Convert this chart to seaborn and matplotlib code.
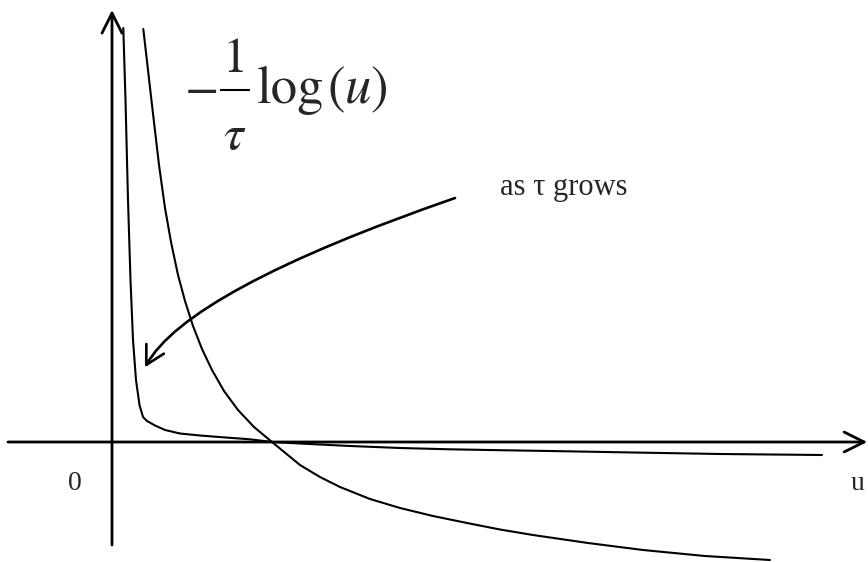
import matplotlib
matplotlib.use("Agg")
import matplotlib.pyplot as plt
from matplotlib.path import Path
from matplotlib.patches import FancyArrowPatch
import pandas as pd
import seaborn as sns

# Curve for a small tau: steep, crosses zero at u = 1
u_small_tau = [0.1956, 0.25, 0.2938, 0.3313, 0.3688, 0.4125, 0.4563, 0.5063,
               0.5625, 0.625, 0.70, 0.7875, 0.8875, 1.0, 1.175, 1.30, 1.425,
               1.6125, 1.80, 2.006, 2.219, 2.425, 2.631, 2.975, 3.319, 3.706,
               4.1125]
v_small_tau = [4.13, 3.37, 2.77, 2.34, 2.00, 1.67, 1.41, 1.16,
               0.93, 0.72, 0.51, 0.32, 0.15, 0.0, -0.23, -0.35, -0.45,
               -0.57, -0.66, -0.74, -0.81, -0.875, -0.93, -1.01, -1.08, -1.14,
               -1.18]

# Curve for a large tau: wall near u = 0, then almost flat
u_large_tau = [0.0706, 0.0844, 0.10, 0.1156, 0.1313, 0.15, 0.1719, 0.1938,
               0.2188, 0.2688, 0.3313, 0.425, 0.55, 0.6938, 0.8625, 1.0,
               1.175, 1.4875, 1.80, 2.1125, 2.425, 2.7375, 3.256, 3.80, 4.4375]
v_large_tau = [4.14, 3.42, 2.42, 1.62, 1.02, 0.62, 0.37, 0.25,
               0.21, 0.165, 0.12, 0.085, 0.065, 0.047, 0.027, 0.0,
               -0.015, -0.04, -0.06, -0.073, -0.082, -0.09, -0.105, -0.12, -0.13]

formula_sign = r"$-$"
formula_num = "1"
formula_den = r"$\tau$"
formula_func = "log"
formula_arg = r"$(u)$"
arrow_label = "as τ grows"
origin_label = "0"
axis_label = "u"

sns.set_theme(style="white")
plt.rcParams["font.family"] = ["Liberation Serif", "DejaVu Serif"]
plt.rcParams["mathtext.fontset"] = "stix"

curves = pd.concat([
    pd.DataFrame({"u": u_small_tau, "v": v_small_tau, "tau": "small"}),
    pd.DataFrame({"u": u_large_tau, "v": v_large_tau, "tau": "large"}),
])

fig = plt.figure(figsize=(8.68, 5.62), dpi=100)
ax = fig.add_axes([0, 0, 1, 1])
ax.set_xlim(-0.7, 4.725)
ax.set_ylim(-1.2, 4.42)
ax.axis("off")

sns.lineplot(data=curves, x="u", y="v", units="tau", estimator=None,
             sort=False, color="black", linewidth=1.5, ax=ax, legend=False)

# coordinate axes with open arrow heads
axis_style = dict(arrowstyle="->,head_length=0.6,head_width=0.3",
                  color="black", lw=2.0, shrinkA=0, shrinkB=0,
                  mutation_scale=24)
ax.annotate("", xy=(4.72, 0), xytext=(-0.65, 0), arrowprops=axis_style)
ax.annotate("", xy=(0, 4.32), xytext=(0, -1.03), arrowprops=axis_style)

# curved arrow showing the direction of growing tau
bend = Path([(2.144, 2.44), (0.469, 1.512), (0.206, 0.747)],
            [Path.MOVETO, Path.CURVE3, Path.CURVE3])
ax.add_patch(FancyArrowPatch(path=bend,
                             arrowstyle="->,head_length=0.55,head_width=0.3",
                             mutation_scale=24, color="black", lw=1.9,
                             transform=ax.transData))

# the formula -1/tau log(u), set piece by piece
stix = "STIXGeneral"
ax.text(0.556, 3.52, formula_sign, fontsize=36, ha="center", va="center")
ax.text(0.768, 3.70, formula_num, fontsize=36, family=stix,
        ha="center", va="baseline")
ax.plot([0.675, 0.86], [3.52, 3.52], color="black", lw=1.5,
        solid_capstyle="butt")
ax.text(0.768, 3.29, formula_den, fontsize=36, ha="center", va="top")
ax.text(0.906, 3.39, formula_func, fontsize=38, family=stix,
        ha="left", va="baseline")
ax.text(1.345, 3.39, formula_arg, fontsize=38, ha="left", va="baseline")

ax.text(2.425, 2.47, arrow_label, fontsize=22, ha="left", va="baseline")
ax.text(-0.234, -0.41, origin_label, fontsize=20, ha="center", va="center")
ax.text(4.615, -0.41, axis_label, fontsize=20, ha="left", va="center")

fig.savefig("out.png", dpi=100, facecolor="white")
